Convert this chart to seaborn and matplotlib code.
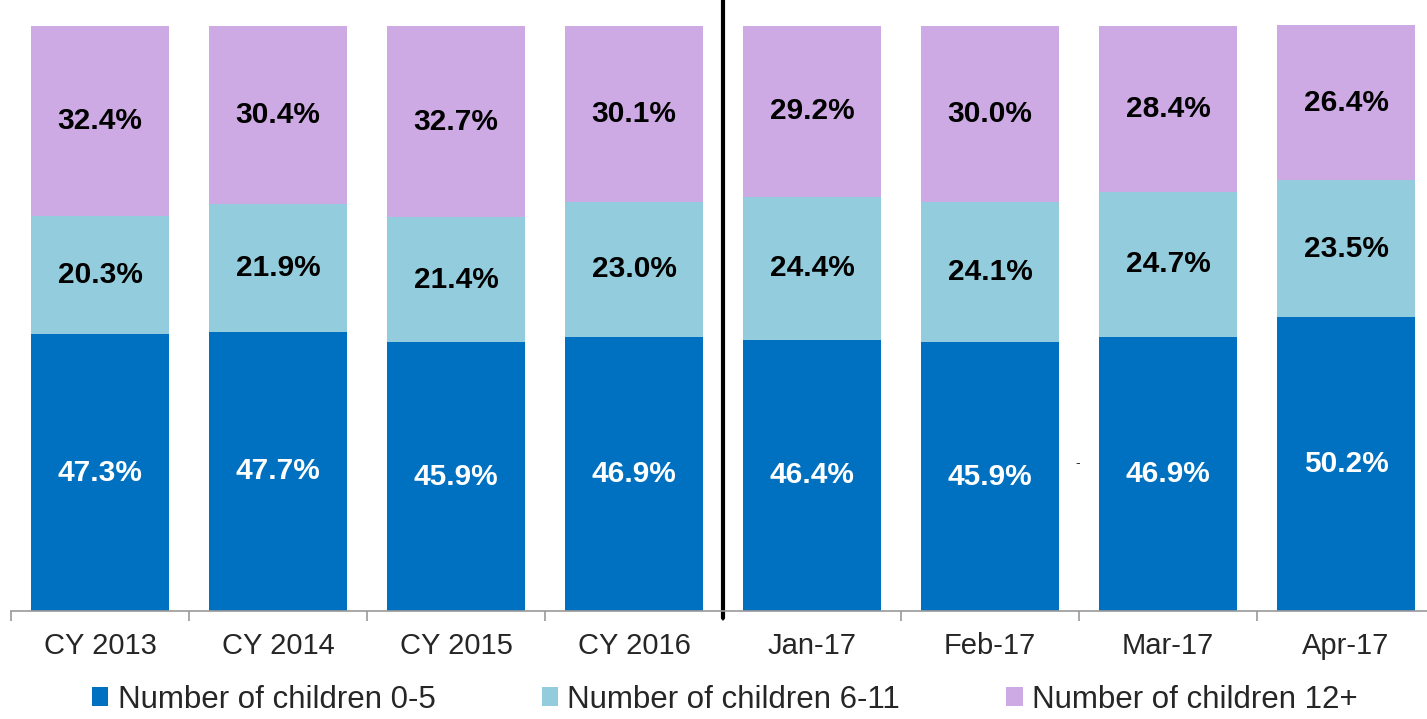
import numpy as np
import pandas as pd
import seaborn as sns
import matplotlib.pyplot as plt

periods = ['CY 2013', 'CY 2014', 'CY 2015', 'CY 2016', 'Jan-17', 'Feb-17', 'Mar-17', 'Apr-17']
age_0_5 = [47.3, 47.7, 45.9, 46.9, 46.4, 45.9, 46.9, 50.2]
age_6_11 = [20.3, 21.9, 21.4, 23.0, 24.4, 24.1, 24.7, 23.5]
age_12_plus = [32.4, 30.4, 32.7, 30.1, 29.2, 30.0, 28.4, 26.4]
series_names = ['Number of children 0-5', 'Number of children 6-11', 'Number of children 12+']
colors = ['#0070C0', '#93CDDD', '#CDAAE4']
text_colors = ['white', 'black', 'black']

df = pd.DataFrame({'period': periods, 'a': age_0_5, 'b': age_6_11, 'c': age_12_plus})

sns.set_style('white')
plt.rcParams['font.family'] = ['Liberation Sans', 'DejaVu Sans']

fig = plt.figure(figsize=(14.27, 7.19), dpi=100)
ax = fig.add_axes([11 / 1427, 1 - 611 / 719, 1416 / 1427, 611 / 719])

bottom = np.zeros(len(periods))
for col, name, c, tc in zip(['a', 'b', 'c'], series_names, colors, text_colors):
    vals = df[col].to_numpy()
    sns.barplot(data=df, x='period', y=col, order=periods, bottom=bottom,
                color=c, width=0.77, label=name, ax=ax, saturation=1, linewidth=0)
    for i, v in enumerate(vals):
        ax.text(i, bottom[i] + v / 2, f'{v:.1f}%', ha='center', va='center',
                color=tc, fontsize=21.5, fontweight='bold')
    bottom = bottom + vals

handles, labels = ax.get_legend_handles_labels()
if ax.get_legend() is not None:
    ax.get_legend().remove()

ax.set_xlim(-0.5, -0.5 + 1416 / 178)
ax.set_ylim(0, 100 * 611 / 585)
ax.set_xlabel('')
ax.set_ylabel('')
ax.set_yticks([])
for s in ['top', 'right', 'left']:
    ax.spines[s].set_visible(False)
ax.spines['bottom'].set_color('#999999')
ax.spines['bottom'].set_linewidth(1.2)

# ticks between categories, labels at centres
ax.set_xticks(np.arange(len(periods)))
ax.set_xticklabels(periods, fontsize=21)
ax.tick_params(axis='x', which='major', length=0, pad=15)
ax.set_xticks(np.arange(len(periods)) - 0.5, minor=True)
ax.tick_params(axis='x', which='minor', bottom=True, length=7, width=1.2,
               color='#999999', direction='out')

# divider between calendar years and months
ax.plot([3.5, 3.5], [-1.2, 104.4], color='black', lw=3, clip_on=False)
ax.text(5.49, 25.3, '-', ha='center', va='center', fontsize=10, color='#333333')

fig.legend(handles, labels, loc='lower center', bbox_to_anchor=(0.508, -0.033), ncol=3,
           frameon=False, fontsize=22.5, handlelength=0.52, handleheight=0.52,
           handletextpad=0.3, columnspacing=3.4)

fig.savefig('out.png', dpi=100)
